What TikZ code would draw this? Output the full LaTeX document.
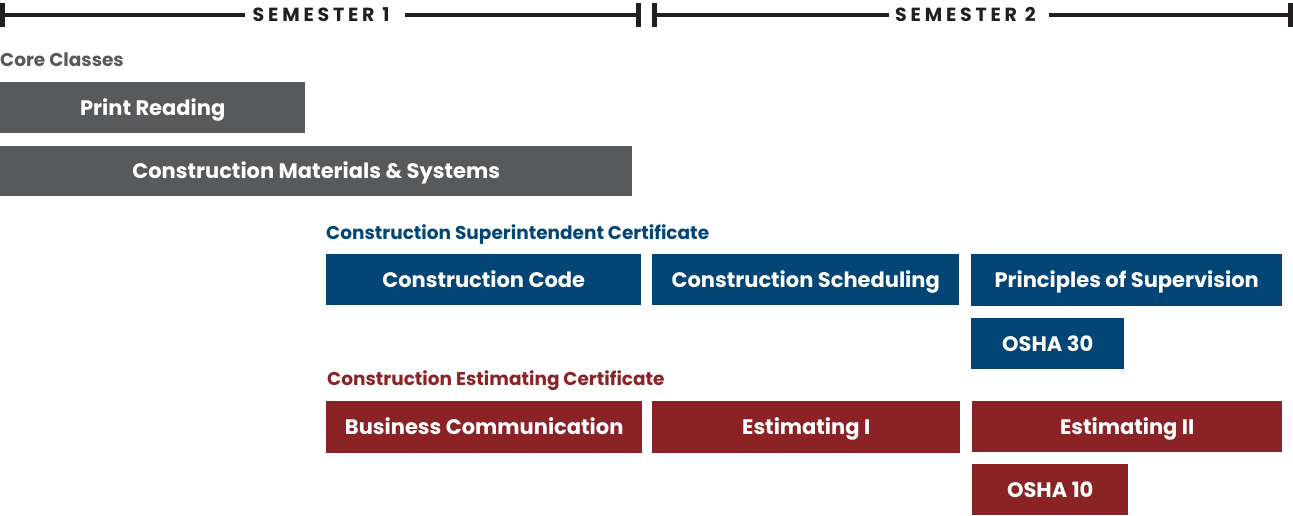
\documentclass[tikz,border=0pt]{standalone}
\usepackage{fontspec}
\setmainfont{Poppins}
\definecolor{coregray}{HTML}{58595B}
\definecolor{supblue}{HTML}{034574}
\definecolor{estred}{HTML}{8B2326}
\definecolor{rulecol}{HTML}{231F20}
\begin{document}
\begin{tikzpicture}[x=1pt,y=1pt,
  box/.style={anchor=north west, inner sep=0pt, text=white,
    font=\fontsize{21}{24}\selectfont\bfseries, minimum height=51pt,
    text height=14.8pt, text depth=0pt},
  heading/.style={anchor=base west, inner sep=0pt,
    font=\fontsize{18.5}{22}\selectfont\bfseries},
  semtext/.style={inner sep=0pt, text=rulecol, text height=13.3pt, text depth=0pt,
    font=\fontsize{19}{22}\selectfont\bfseries\addfontfeatures{LetterSpace=20}},
  rulebar/.style={draw=rulecol, line width=4pt},
  tickbar/.style={draw=rulecol, line width=5pt}]
\useasboundingbox (0,0) rectangle (1293,-516);
% header
\coordinate (a0) at (2.5,-14.7);
\coordinate (a1) at (638.5,-14.7);
\coordinate (b0) at (654.5,-14.7);
\coordinate (b1) at (1290.5,-14.7);
\coordinate (a0e) at (245,-14.7);
\coordinate (a1s) at (405,-14.7);
\coordinate (b0e) at (889,-14.7);
\coordinate (b1s) at (1049,-14.7);
\node[semtext, anchor=west] (s1) at (252.5,-14.7) {SEMESTER 1};
\node[semtext, anchor=west] (s2) at (895,-14.7) {SEMESTER 2};
\draw[rulebar] (a0) -- (a0e);
\draw[rulebar] (a1s) -- (a1);
\draw[rulebar] (b0) -- (b0e);
\draw[rulebar] (b1s) -- (b1);
\foreach \c in {a0,a1,b0,b1}{\draw[tickbar] ([yshift=12pt]\c) -- ([yshift=-12pt]\c);}
% core
\node[heading, text=coregray] (hcore) at (0,-67) {Core Classes};
\node[box, fill=coregray, minimum width=305pt] (pr) at (0,-82) {Print Reading};
\node[box, fill=coregray, minimum width=632pt, minimum height=50pt] (cms) at (0,-146) {Construction Materials \& Systems};
% superintendent
\node[heading, text=supblue] (hsup) at (326,-239) {Construction Superintendent Certificate};
\node[box, fill=supblue, minimum width=315pt] (cc) at (326,-254) {Construction Code};
\node[box, fill=supblue, minimum width=307pt] (cs) at (652,-254) {Construction Scheduling};
\node[box, fill=supblue, minimum width=311pt, minimum height=52pt] (ps) at (971,-254) {Principles of Supervision};
\node[box, fill=supblue, minimum width=153pt] (o30) at (971,-318) {OSHA 30};
% estimating
\node[heading, text=estred] (hest) at (327,-385) {Construction Estimating Certificate};
\node[box, fill=estred, minimum width=316pt, minimum height=52pt] (bc) at (326,-401) {Business Communication};
\node[box, fill=estred, minimum width=308pt, minimum height=52pt] (e1) at (652,-401) {Estimating I};
\node[box, fill=estred, minimum width=310pt] (e2) at (972,-401) {Estimating II};
\node[box, fill=estred, minimum width=156pt] (o10) at (972,-464) {OSHA 10};
\end{tikzpicture}
\end{document}
